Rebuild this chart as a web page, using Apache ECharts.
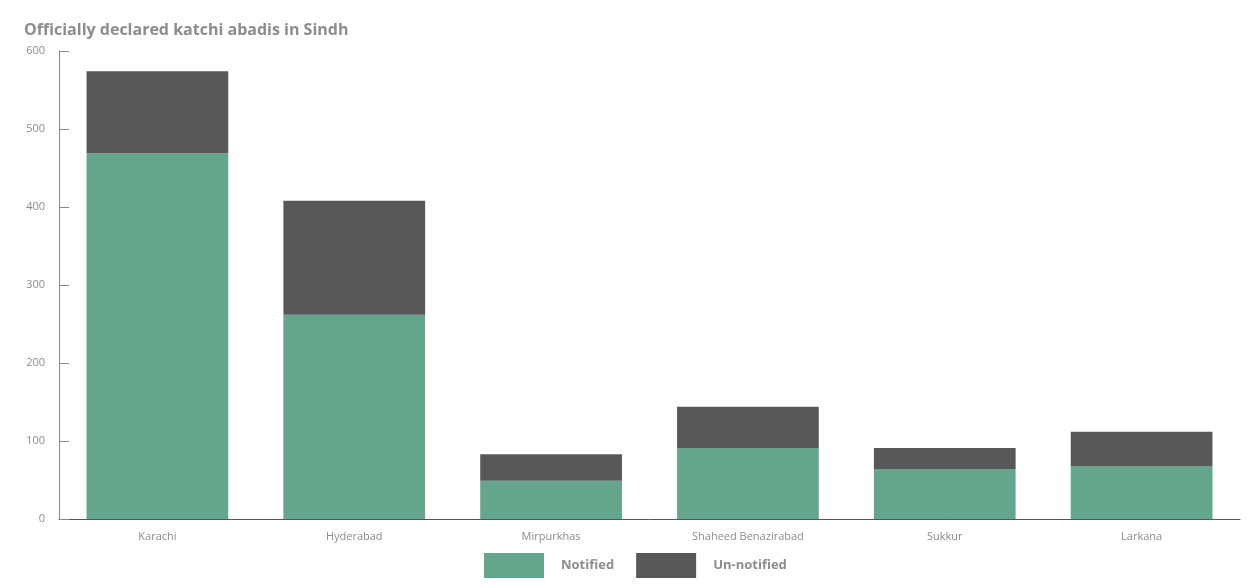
<!DOCTYPE html>
<html>
<head>
<meta charset="utf-8">
<script src="https://cdn.jsdelivr.net/npm/echarts@6/dist/echarts.min.js"></script>
<style>html,body{margin:0;padding:0;background:#fff;}#c{width:1260px;height:588px;}</style>
</head>
<body>
<div id="c"></div>
<script>
const categories = ['Karachi', 'Hyderabad', 'Mirpurkhas', 'Shaheed Benazirabad', 'Sukkur', 'Larkana'];
const notified = [469, 262, 49, 91, 64, 68];
const unNotified = [105, 146, 34, 53, 27, 44];
const yTicks = [0, 100, 200, 300, 400, 500, 600];

const chart = echarts.init(document.getElementById('c'));
chart.setOption({
  animation: false,
  title: {
    text: 'Officially declared katchi abadis in Sindh',
    left: 19, top: 17,
    textStyle: {fontFamily: 'Open Sans', fontSize: 16, fontWeight: 'bold', color: '#8c8c8c'}
  },
  legend: {
    bottom: 5, left: 479,
    itemWidth: 60, itemHeight: 25, itemGap: 22,
    icon: 'rect',
    textStyle: {fontFamily: 'Open Sans', fontSize: 13, fontWeight: 'bold', color: '#8c8c8c', padding: [0, 0, 0, 12]},
    data: ['Notified', 'Un-notified']
  },
  grid: {left: 59, right: 20, top: 51, bottom: 69},
  xAxis: {
    type: 'category',
    data: categories,
    axisLine: {lineStyle: {color: '#555', width: 1}},
    axisTick: {inside: true, length: 12, lineStyle: {color: '#555'}},
    axisLabel: {fontFamily: 'Open Sans', fontSize: 11, color: '#8c8c8c', margin: 12}
  },
  yAxis: {
    type: 'value',
    min: 0, max: 600, interval: 100,
    axisLine: {show: true, lineStyle: {color: '#888'}},
    axisTick: {show: true, inside: true, length: 10, lineStyle: {color: '#888'}},
    splitLine: {show: false},
    axisLabel: {fontFamily: 'Open Sans', fontSize: 11, color: '#8c8c8c', margin: 14,
      formatter: v => yTicks.includes(v) ? String(v) : ''}
  },
  series: [
    {name: 'Notified', type: 'bar', stack: 'a', data: notified, barCategoryGap: '28%',
      itemStyle: {color: '#64a68b'}},
    {name: 'Un-notified', type: 'bar', stack: 'a', data: unNotified, barCategoryGap: '28%',
      itemStyle: {color: '#58585a'}}
  ]
});
</script>
</body>
</html>
